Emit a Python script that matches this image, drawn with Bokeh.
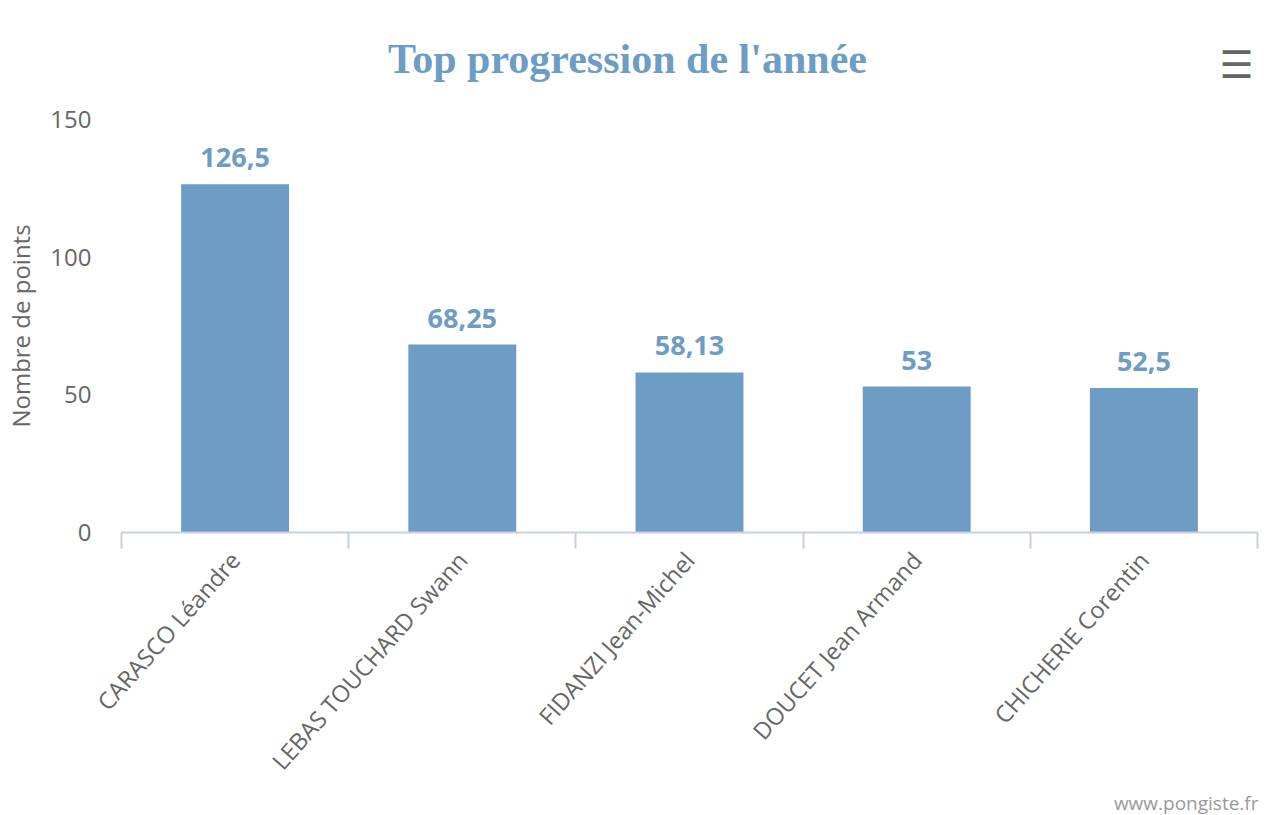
import math
from bokeh.plotting import figure
from bokeh.models import (ColumnDataSource, FixedTicker, Range1d, Label, LinearAxis)
from bokeh.core.properties import value
from bokeh.embed import file_html
from bokeh.resources import INLINE

players = ["CARASCO Léandre", "LEBAS TOUCHARD Swann", "FIDANZI Jean-Michel",
           "DOUCET Jean Armand", "CHICHERIE Corentin"]
points = [126.5, 68.25, 58.13, 53, 52.5]
point_labels = ["126,5", "68,25", "58,13", "53", "52,5"]
y_ticks = [0, 50, 100, 150]
title_text = "Top progression de l'année"
credits_text = "www.pongiste.fr"

BLUE = "#6d9cc5"
GREY = "#666666"

n = len(players)
centers = [i + 0.5 for i in range(n)]
src = ColumnDataSource(dict(x=centers, top=points, lab=point_labels))

W, H = 1284, 815
p = figure(width=W, height=H, output_backend="svg", toolbar_location=None,
           x_range=Range1d(0, n), y_range=Range1d(0, 150),
           min_border_left=121, min_border_right=W - 1257,
           min_border_top=119, min_border_bottom=H - 532,
           x_axis_type=None, y_axis_type=None)
p.outline_line_color = None
p.background_fill_color = "white"
p.border_fill_color = "white"
p.title.visible = False

p.vbar(x="x", top="top", width=0.475, source=src, fill_color=BLUE, line_color=None)
p.text(x="x", y="top", text="lab", source=src, y_offset=-17,
       text_align="center", text_baseline="bottom",
       text_font=value("Open Sans"), text_font_style="bold",
       text_font_size="27px", text_color=BLUE)

# y axis
yaxis = LinearAxis(ticker=FixedTicker(ticks=y_ticks))
yaxis.axis_line_color = None
yaxis.major_tick_line_color = None
yaxis.major_tick_out = 0
yaxis.major_tick_in = 0
yaxis.minor_tick_line_color = None
yaxis.minor_tick_out = 0
yaxis.major_label_standoff = 30
yaxis.major_label_text_font = "Open Sans"
yaxis.major_label_text_font_size = "24px"
yaxis.major_label_text_color = GREY
yaxis.axis_label = "Nombre de points"
yaxis.axis_label_text_font = "Open Sans"
yaxis.axis_label_text_font_size = "24px"
yaxis.axis_label_text_font_style = "normal"
yaxis.axis_label_text_color = GREY
yaxis.axis_label_standoff = 10
p.add_layout(yaxis, "left")

# x axis
xaxis = LinearAxis(ticker=FixedTicker(ticks=centers, minor_ticks=list(range(n + 1))))
xaxis.major_label_overrides = {c: name for c, name in zip(centers, players)}
xaxis.major_label_orientation = math.radians(48.5)
xaxis.axis_line_color = "#c5d1e3"
xaxis.axis_line_width = 2
xaxis.major_tick_line_color = None
xaxis.major_tick_out = 0
xaxis.major_tick_in = 0
xaxis.minor_tick_line_color = "#c5d1e3"
xaxis.minor_tick_line_width = 2
xaxis.minor_tick_out = 16
xaxis.minor_tick_in = 0
xaxis.major_label_standoff = 7
xaxis.major_label_text_font = "Open Sans"
xaxis.major_label_text_font_size = "23.5px"
xaxis.major_label_text_color = GREY
p.add_layout(xaxis, "below")

p.ygrid.ticker = FixedTicker(ticks=y_ticks)
p.ygrid.grid_line_color = "#d8d8d8"
p.ygrid.grid_line_width = 2
p.xgrid.grid_line_color = None

# menu icon (above panel, canvas coordinates)
p.add_layout(Label(x=1236, y=64, x_units="canvas", y_units="canvas", text="☰",
                   text_align="center", text_baseline="middle",
                   text_font="DejaVu Sans", text_font_size="38px", text_color=GREY),
             "above")
# title
p.add_layout(Label(x=627, y=58, x_units="canvas", y_units="canvas", text=title_text,
                   text_align="center", text_baseline="alphabetic",
                   text_font="Liberation Serif", text_font_size="42px",
                   text_font_style="bold", text_color=BLUE),
             "above")
# credits
p.add_layout(Label(x=1258, y=802, x_units="canvas", y_units="canvas", text=credits_text,
                   text_align="right", text_baseline="alphabetic",
                   text_font="Open Sans", text_font_size="19px", text_color="#999999"),
             "below")

open("out.html", "w").write(file_html(p, INLINE))
